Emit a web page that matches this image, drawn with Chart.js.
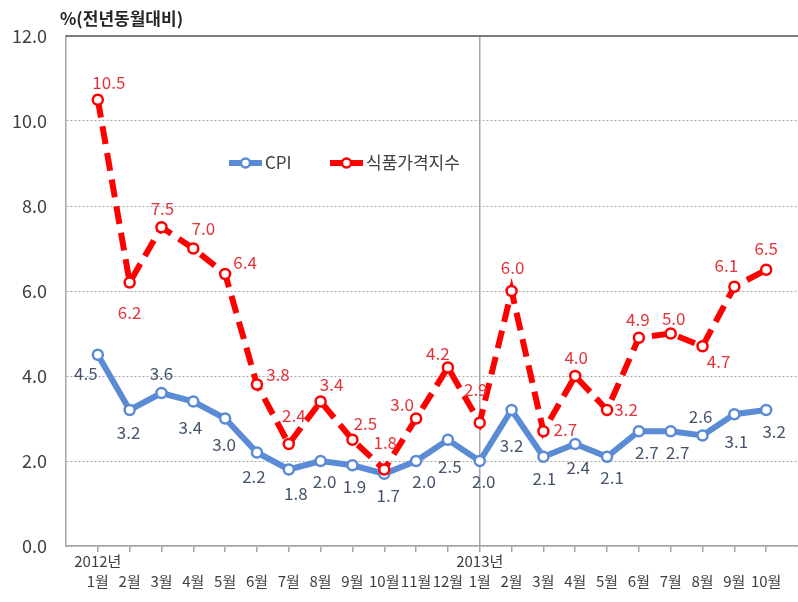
<!DOCTYPE html>
<html>
<head>
<meta charset="utf-8">
<script src="https://cdn.jsdelivr.net/npm/chart.js"></script>
<style>
  body { margin: 0; background: #fff; }
  canvas { display: block; }
</style>
</head>
<body>
<canvas id="chart" width="798" height="602"></canvas>
<script>
// months on the x axis (2012.1 ~ 2013.10)
const months = ['1월','2월','3월','4월','5월','6월','7월','8월','9월','10월','11월','12월',
                '1월','2월','3월','4월','5월','6월','7월','8월','9월','10월'];
const yearTicks = { 0: '2012년', 12: '2013년' };

const cpi  = [4.5, 3.2, 3.6, 3.4, 3.0, 2.2, 1.8, 2.0, 1.9, 1.7, 2.0, 2.5,
              2.0, 3.2, 2.1, 2.4, 2.1, 2.7, 2.7, 2.6, 3.1, 3.2];
const food = [10.5, 6.2, 7.5, 7.0, 6.4, 3.8, 2.4, 3.4, 2.5, 1.8, 3.0, 4.2,
              2.9, 6.0, 2.7, 4.0, 3.2, 4.9, 5.0, 4.7, 6.1, 6.5];

const yTicks = [0, 2, 4, 6, 8, 10, 12];

// where each value label sits, relative to its point (px)
const cpiLabelOff = [[-12,19],[-1,23],[0,-19],[-3,26],[-1,26],[-3,24],[7,24],[4,21],[2,21],[4,22],[8,21],[2,27],
                     [4,21],[0,36],[1,22],[3,24],[5,21],[8,21],[7,21],[-2,-19],[2,27],[8,22]];
const foodLabelOff = [[11,-17],[0,30],[1,-19],[10,-20],[20,-11],[21,-10],[5,-28],[11,-17],[13,-16],[1,-27],[-14,-14],[-10,-14],
                      [-4,-33],[1,-23],[22,-2],[1,-18],[19,0],[-1,-18],[3,-15],[16,15],[-8,-21],[0,-21]];

const BLUE = '#5B8BD4';
const RED = '#FF0000';
const FONT = "'Noto Sans CJK KR', 'Noto Sans', sans-serif";

Chart.defaults.font.family = FONT;

const extras = {
  id: 'extras',
  afterDraw(chart) {
    const ctx = chart.ctx;
    const area = chart.chartArea;
    ctx.save();
    // solid top border at 12.0
    ctx.strokeStyle = '#595959';
    ctx.lineWidth = 1.5;
    ctx.beginPath();
    ctx.moveTo(area.left, area.top);
    ctx.lineTo(area.right, area.top);
    ctx.stroke();

    // unit title
    ctx.fillStyle = '#262626';
    ctx.font = 'bold 17px ' + FONT;
    ctx.textAlign = 'left';
    ctx.textBaseline = 'middle';
    ctx.fillText('%(전년동월대비)', 60, 19);

    // legend
    const items = [
      { x: 229, color: BLUE, text: 'CPI' },
      { x: 330, color: RED, text: '식품가격지수' }
    ];
    items.forEach(it => {
      ctx.strokeStyle = it.color;
      ctx.lineWidth = 6;
      ctx.beginPath();
      ctx.moveTo(it.x, 163);
      ctx.lineTo(it.x + 33, 163);
      ctx.stroke();
      ctx.fillStyle = '#fff';
      ctx.lineWidth = 2.5;
      ctx.beginPath();
      ctx.arc(it.x + 16.5, 163, 4.5, 0, Math.PI * 2);
      ctx.fill();
      ctx.stroke();
      ctx.fillStyle = '#404040';
      ctx.font = '17px ' + FONT;
      ctx.textAlign = 'left';
      ctx.fillText(it.text, it.x + 36, 163);
    });
    ctx.restore();
  },
  afterDatasetsDraw(chart) {
    const ctx = chart.ctx;
    ctx.save();
    ctx.font = '17px ' + FONT;
    ctx.textAlign = 'center';
    ctx.textBaseline = 'middle';
    const sets = [
      { idx: 0, off: cpiLabelOff, color: '#44546A', vals: cpi },
      { idx: 1, off: foodLabelOff, color: '#E5333A', vals: food }
    ];
    sets.forEach(s => {
      const meta = chart.getDatasetMeta(s.idx);
      ctx.fillStyle = s.color;
      meta.data.forEach((pt, i) => {
        const o = s.off[i];
        ctx.fillText(s.vals[i].toFixed(1), pt.x + o[0], pt.y + o[1]);
      });
    });
    ctx.restore();
  }
};

new Chart(document.getElementById('chart'), {
  type: 'line',
  data: {
    datasets: [
      {
        label: 'CPI',
        data: cpi.map((v, i) => ({ x: i, y: v })),
        borderColor: BLUE,
        borderWidth: 6,
        pointRadius: 5,
        pointBorderWidth: 2.5,
        pointBackgroundColor: '#fff',
        pointBorderColor: BLUE,
        tension: 0,
        order: 1
      },
      {
        label: '식품가격지수',
        data: food.map((v, i) => ({ x: i, y: v })),
        borderColor: RED,
        borderWidth: 6,
        borderDash: [18, 9],
        borderCapStyle: 'butt',
        pointRadius: 5,
        pointBorderWidth: 2.5,
        pointBackgroundColor: '#fff',
        pointBorderColor: RED,
        tension: 0,
        order: 0
      }
    ]
  },
  options: {
    responsive: false,
    animation: false,
    layout: { autoPadding: false, padding: { top: 36, left: 0, right: 0, bottom: 0 } },
    plugins: {
      legend: { display: false },
      tooltip: { enabled: false }
    },
    scales: {
      x: {
        type: 'linear',
        min: -1,
        max: 22,
        afterBuildTicks: (scale) => {
          scale.ticks = months.map((m, i) => ({ value: i }));
        },
        afterFit: (scale) => {
          scale.height = 56;
          scale.paddingLeft = 0;
          scale.paddingRight = 0;
        },
        border: { display: true, color: '#A6A6A6', width: 1.5 },
        grid: {
          drawOnChartArea: true,
          color: (c) => (c.tick && c.tick.value === 12 ? '#A6A6A6' : 'rgba(0,0,0,0)'),
          lineWidth: 1.5,
          tickColor: '#A6A6A6',
          tickLength: 6
        },
        ticks: {
          autoSkip: false,
          maxRotation: 0,
          minRotation: 0,
          padding: 0,
          color: '#404040',
          font: { size: 15, lineHeight: 1.3 },
          callback: (v) => [yearTicks[v] || '', months[v]]
        }
      },
      y: {
        min: 0,
        max: 12,
        afterBuildTicks: (scale) => {
          scale.ticks = yTicks.map(v => ({ value: v }));
        },
        afterFit: (scale) => { scale.width = 66; },
        border: { display: true, color: '#A6A6A6', width: 1.5, dash: [2, 2] },
        grid: {
          color: '#A6A6A6',
          lineWidth: 1,
          drawTicks: false
        },
        ticks: {
          padding: 19,
          color: '#404040',
          font: { size: 18 },
          callback: (v) => v.toFixed(1)
        }
      }
    }
  },
  plugins: [extras]
});
</script>
</body>
</html>
